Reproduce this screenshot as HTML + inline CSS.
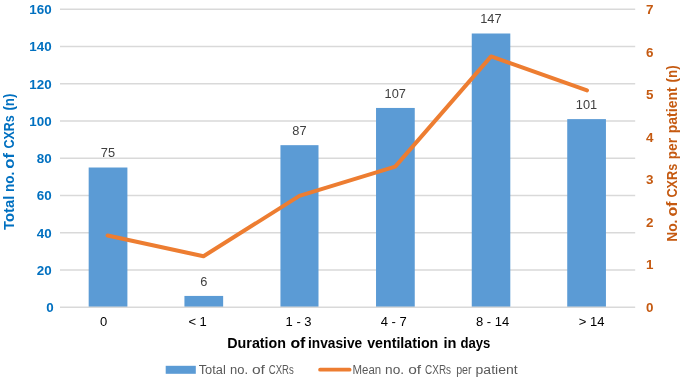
<!DOCTYPE html>
<html>
<head>
<meta charset="utf-8">
<title>CXRs by duration of invasive ventilation</title>
<style>
  html, body { margin: 0; padding: 0; background: #ffffff; }
  body { width: 685px; height: 377px; overflow: hidden; }
  svg { display: block; will-change: transform; }
  text { font-family: "Liberation Sans", sans-serif; }
  .yl { font-weight: bold; font-size: 13.4px; fill: #0070C0; text-anchor: end; }
  .yr { font-weight: bold; font-size: 13.4px; fill: #C55A11; text-anchor: start; }
  .dl { font-size: 12.8px; fill: #404040; text-anchor: middle; }
  .cat { font-size: 13px; fill: #000000; text-anchor: middle; }
  .leg { font-size: 12.3px; fill: #595959; }
  .xt { font-weight: bold; font-size: 14.2px; fill: #000000; }
  .lt { font-weight: bold; font-size: 14.2px; fill: #0070C0; }
  .rt { font-weight: bold; font-size: 14.4px; fill: #C55A11; }
</style>
</head>
<body>
<svg width="685" height="377" viewBox="0 0 685 377">
  <rect x="0" y="0" width="685" height="377" fill="#ffffff"/>

  <!-- gridlines -->
  <g stroke="#D9D9D9" stroke-width="1.5" fill="none">
    <line x1="60.0" y1="269.88" x2="635.2" y2="269.88"/>
    <line x1="60.0" y1="232.65" x2="635.2" y2="232.65"/>
    <line x1="60.0" y1="195.43" x2="635.2" y2="195.43"/>
    <line x1="60.0" y1="158.20" x2="635.2" y2="158.20"/>
    <line x1="60.0" y1="120.98" x2="635.2" y2="120.98"/>
    <line x1="60.0" y1="83.75" x2="635.2" y2="83.75"/>
    <line x1="60.0" y1="46.53" x2="635.2" y2="46.53"/>
    <line x1="60.0" y1="9.30" x2="635.2" y2="9.30"/>
  </g>
  <!-- bars -->
  <g fill="#5B9BD5">
    <rect x="88.67" y="167.51" width="38.73" height="139.59"/>
    <rect x="184.43" y="295.93" width="38.72" height="11.17"/>
    <rect x="280.45" y="145.17" width="38.05" height="161.93"/>
    <rect x="376.03" y="107.95" width="38.72" height="199.15"/>
    <rect x="471.75" y="33.50" width="38.55" height="273.60"/>
    <rect x="567.23" y="119.11" width="38.71" height="187.99"/>
  </g>
  <!-- axis baseline -->
  <line x1="60.0" y1="307.30" x2="635.2" y2="307.30" stroke="#D9D9D9" stroke-width="1.5"/>
  <!-- line series -->
  <polyline points="107.6,235.5 203.5,256.3 299.4,195.9 395.2,166.6 491.1,56.4 587.0,90.4" fill="none" stroke="#ED7D31" stroke-width="4" stroke-linecap="round" stroke-linejoin="round"/>
  <!-- data labels -->
  <text class="dl" x="107.9" y="157.1">75</text>
  <text class="dl" x="203.7" y="285.5">6</text>
  <text class="dl" x="299.4" y="134.8">87</text>
  <text class="dl" x="395.3" y="97.5">107</text>
  <text class="dl" x="490.9" y="23.1">147</text>
  <text class="dl" x="586.5" y="108.7">101</text>
  <!-- left axis tick labels -->
  <text class="yl" x="53.6" y="311.9">0</text>
  <text class="yl" x="51.6" y="274.7">20</text>
  <text class="yl" x="51.6" y="237.5">40</text>
  <text class="yl" x="51.6" y="200.2">60</text>
  <text class="yl" x="51.6" y="163.0">80</text>
  <text class="yl" x="51.6" y="125.8">100</text>
  <text class="yl" x="51.6" y="88.5">120</text>
  <text class="yl" x="51.6" y="51.3">140</text>
  <text class="yl" x="51.6" y="14.1">160</text>
  <!-- right axis tick labels -->
  <text class="yr" x="646.1" y="311.9">0</text>
  <text class="yr" x="646.1" y="269.4">1</text>
  <text class="yr" x="646.1" y="226.8">2</text>
  <text class="yr" x="646.1" y="184.3">3</text>
  <text class="yr" x="646.1" y="141.7">4</text>
  <text class="yr" x="646.1" y="99.2">5</text>
  <text class="yr" x="646.1" y="56.6">6</text>
  <text class="yr" x="646.1" y="14.1">7</text>
  <!-- category labels -->
  <text class="cat" x="103.5" y="326.0">0</text>
  <text class="cat" x="197.6" y="326.0">&lt; 1</text>
  <text class="cat" x="298.6" y="326.0">1 - 3</text>
  <text class="cat" x="393.7" y="326.0">4 - 7</text>
  <text class="cat" x="492.6" y="326.0">8 - 14</text>
  <text class="cat" x="591.7" y="326.0">&gt; 14</text>
  <!-- x axis title -->
  <g class="xt">
    <text x="227.3" y="347.5" textLength="58.7" lengthAdjust="spacingAndGlyphs">Duration</text>
    <text x="290.4" y="347.5" textLength="15.0" lengthAdjust="spacingAndGlyphs">of</text>
    <text x="308.0" y="347.5" textLength="54.2" lengthAdjust="spacingAndGlyphs">invasive</text>
    <text x="367.2" y="347.5" textLength="71.1" lengthAdjust="spacingAndGlyphs">ventilation</text>
    <text x="443.4" y="347.5" textLength="13.0" lengthAdjust="spacingAndGlyphs">in</text>
    <text x="460.4" y="347.5" textLength="29.9" lengthAdjust="spacingAndGlyphs">days</text>
  </g>
  <!-- left axis title -->
  <g class="lt">
    <text transform="translate(13.8,229.9) rotate(-90)" textLength="34.2" lengthAdjust="spacingAndGlyphs">Total</text>
    <text transform="translate(13.8,192.0) rotate(-90)" textLength="20.4" lengthAdjust="spacingAndGlyphs">no.</text>
    <text transform="translate(13.8,168.7) rotate(-90)" textLength="15.8" lengthAdjust="spacingAndGlyphs">of</text>
    <text transform="translate(13.8,148.5) rotate(-90)" textLength="33.2" lengthAdjust="spacingAndGlyphs">CXRs</text>
    <text transform="translate(13.8,110.6) rotate(-90)" textLength="17.1" lengthAdjust="spacingAndGlyphs">(n)</text>
  </g>
  <!-- right axis title -->
  <g class="rt">
    <text transform="translate(676.7,241.8) rotate(-90)" textLength="22.2" lengthAdjust="spacingAndGlyphs">No.</text>
    <text transform="translate(676.7,216.5) rotate(-90)" textLength="15.1" lengthAdjust="spacingAndGlyphs">of</text>
    <text transform="translate(676.7,197.5) rotate(-90)" textLength="33.7" lengthAdjust="spacingAndGlyphs">CXRs</text>
    <text transform="translate(676.7,159.3) rotate(-90)" textLength="21.4" lengthAdjust="spacingAndGlyphs">per</text>
    <text transform="translate(676.7,133.3) rotate(-90)" textLength="46.0" lengthAdjust="spacingAndGlyphs">patient</text>
    <text transform="translate(676.7,82.4) rotate(-90)" textLength="17.1" lengthAdjust="spacingAndGlyphs">(n)</text>
  </g>
  <!-- legend -->
  <rect x="165.7" y="365.8" width="30.1" height="8" fill="#5B9BD5"/>
  <g class="leg">
    <text x="198.7" y="374.3" textLength="27.1" lengthAdjust="spacingAndGlyphs">Total</text>
    <text x="230.0" y="374.3" textLength="18.0" lengthAdjust="spacingAndGlyphs">no.</text>
    <text x="251.9" y="374.3" textLength="13.0" lengthAdjust="spacingAndGlyphs">of</text>
    <text x="268.8" y="374.3" textLength="25.0" lengthAdjust="spacingAndGlyphs">CXRs</text>
  </g>
  <line x1="320.1" y1="369.7" x2="349.6" y2="369.7" stroke="#ED7D31" stroke-width="3.8" stroke-linecap="round"/>
  <g class="leg">
    <text x="352.6" y="374.3" textLength="28.6" lengthAdjust="spacingAndGlyphs">Mean</text>
    <text x="385.1" y="374.3" textLength="19.0" lengthAdjust="spacingAndGlyphs">no.</text>
    <text x="408.2" y="374.3" textLength="12.9" lengthAdjust="spacingAndGlyphs">of</text>
    <text x="425.1" y="374.3" textLength="26.0" lengthAdjust="spacingAndGlyphs">CXRs</text>
    <text x="456.2" y="374.3" textLength="15.4" lengthAdjust="spacingAndGlyphs">per</text>
    <text x="475.6" y="374.3" textLength="42.0" lengthAdjust="spacingAndGlyphs">patient</text>
  </g>
</svg>
</body>
</html>
